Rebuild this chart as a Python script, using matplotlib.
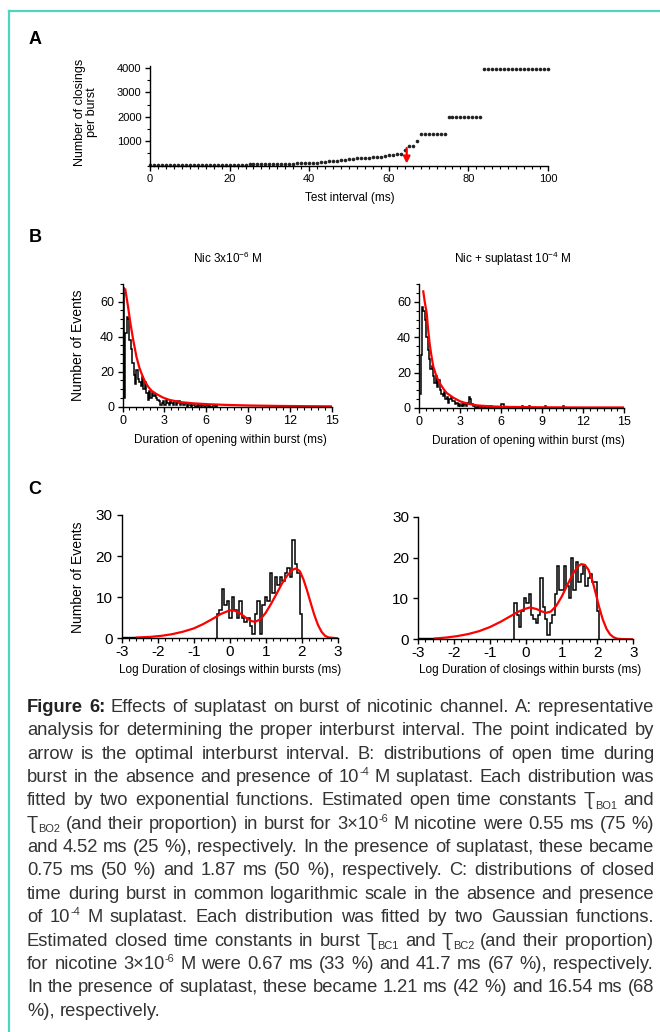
import re
import numpy as np
import matplotlib
matplotlib.use('Agg')
import matplotlib.pyplot as plt
from matplotlib.lines import Line2D
from matplotlib.ticker import MultipleLocator
from matplotlib.transforms import IdentityTransform

plt.rcParams['font.family'] = ['Liberation Sans', 'DejaVu Sans']
plt.rcParams['mathtext.default'] = 'regular'
plt.rcParams['axes.unicode_minus'] = False

W, H = 660, 1032

# ---------------- panel A : closings per burst vs test interval
a_interval = list(range(0, 101))
a_closings = [8, 9, 10, 11, 12, 13, 14, 15, 16, 17,
              18, 19, 20, 21, 22, 23, 24, 26, 28, 30,
              32, 34, 36, 38, 40, 42, 44, 47, 50, 53,
              56, 59, 62, 66, 70, 74, 78, 83, 88, 94,
              100, 108, 118, 130, 150, 170, 190, 205, 220, 235,
              250, 275, 300, 305, 310, 320, 330, 340, 360, 400,
              440, 450, 460, 480, 650, 790, 790, 990, 1310, 1310,
              1310, 1310, 1310, 1310, 1310, 1970, 1970, 1970, 1970, 1970,
              1970, 1970, 1970, 1970, 3950, 3950, 3950, 3950, 3950, 3950,
              3950, 3950, 3950, 3950, 3950, 3950, 3950, 3950, 3950, 3950, 3950]
a_arrow_x = 64.5
a_arrow_top = 720
a_arrow_tip = 80

# ---------------- panel B : open time histograms (bin 0.1 ms)
b_bin = 0.1
b_nic_counts = [68, 5, 42, 51, 50, 38, 33, 25, 18, 13,
                21, 16, 14, 12, 17, 10, 14, 8, 4, 9,
                5, 8, 6, 7, 5, 4, 3, 1, 2, 3,
                1, 4, 2, 1, 3, 2, 1, 3, 1, 2,
                3, 1, 2, 1, 1, 2, 0, 1, 1, 0,
                1, 1, 0, 1, 0, 1, 0, 1, 0, 0,
                1, 0, 1, 0, 0, 1, 0, 1]
b_sup_counts = [8, 30, 57, 55, 50, 40, 33, 28, 22, 24,
                18, 14, 18, 12, 16, 10, 8, 7, 9, 5,
                6, 3, 5, 6, 4, 4, 2, 3, 1, 2,
                1, 2, 1, 2, 1, 3, 6, 5, 2, 1,
                1, 0, 1, 0, 1, 0, 1, 0, 0, 1,
                0, 0, 1, 0, 0, 0, 0, 0, 0, 0,
                2, 2]
b_sup_tail_x = [7.5, 8.0, 9.2, 10.5]
b_sup_tail_n = [1, 1, 1, 1]

b_nic_fit_x = [0.2, 0.4, 0.57, 0.77, 1.0, 1.2, 1.36, 1.6, 1.84, 2.1, 2.44, 2.9,
               3.4, 4.2, 5.1, 6.2, 7.5, 9.0, 11.0, 13.0, 15.0]
b_nic_fit_y = [67, 57, 47.5, 38, 28.5, 22.5, 19, 14.5, 11.4, 9, 7.2, 5.2,
               3.8, 2.6, 1.9, 1.4, 1.0, 0.7, 0.45, 0.3, 0.2]
b_sup_fit_x = [0.29, 0.4, 0.54, 0.65, 0.78, 0.9, 1.02, 1.25, 1.5, 1.75, 2.0, 2.5,
               2.98, 3.5, 4.2, 5.2, 6.6, 9.0, 12.0, 15.0]
b_sup_fit_y = [66, 60, 53.8, 44, 35, 29, 23.6, 18, 14, 11, 8.5, 5.8,
               3.8, 2.5, 1.5, 0.9, 0.6, 0.4, 0.3, 0.3]

# ---------------- panel C : closed time histograms (log scale)
c_nic_start, c_nic_bin = -0.36, 0.07
c_nic_counts = [6, 7, 12, 8, 9, 5, 10, 7, 5, 9, 5, 4, 5, 3, 1, 6, 9, 1, 8, 10,
                9, 16, 11, 15, 13, 15, 14, 16, 17, 15, 24, 18, 16, 6]
c_sup_start, c_sup_bin = -0.32, 0.066
c_sup_counts = [9, 6, 3, 7, 10, 9, 11, 6, 5, 4, 6, 15, 8, 5, 1, 4, 6, 11, 18, 12,
                12, 18, 13, 10, 20, 12, 19, 14, 16, 18, 13, 15, 16, 14, 14, 7]
c_nic_stub = ([-3.0, -2.6], [0.4])
c_sup_stub = ([-3.0, -2.5], [0.3])

c_nic_fit_x = [-2.58, -2.2, -1.9, -1.6, -1.3, -1.0, -0.75, -0.5, -0.25, 0.0, 0.15, 0.3,
               0.45, 0.6, 0.7, 0.85, 1.0, 1.15, 1.3, 1.45, 1.6, 1.75, 1.85, 1.95,
               2.05, 2.15, 2.25, 2.35, 2.45, 2.55, 2.65, 2.75, 3.0]
c_nic_fit_y = [0.2, 0.35, 0.6, 1.0, 1.6, 2.4, 3.4, 4.6, 5.9, 6.8, 6.7, 6.0,
               5.0, 4.2, 4.0, 4.6, 6.2, 8.4, 10.8, 13.3, 15.3, 16.7, 17.0, 16.3,
               14.3, 11.6, 8.6, 5.7, 3.3, 1.6, 0.6, 0.2, 0.0]
c_sup_fit_x = [-2.53, -2.2, -1.9, -1.6, -1.3, -1.0, -0.7, -0.4, -0.2, 0.0, 0.12, 0.3,
               0.45, 0.58, 0.7, 0.85, 1.0, 1.15, 1.3, 1.45, 1.55, 1.65, 1.75, 1.85,
               1.95, 2.05, 2.15, 2.25, 2.35, 2.45, 2.55, 2.7, 3.0]
c_sup_fit_y = [0.2, 0.45, 0.8, 1.3, 2.0, 3.0, 4.3, 5.8, 6.8, 7.5, 7.8, 7.4,
               6.8, 6.5, 6.8, 8.2, 10.4, 13.1, 15.8, 17.8, 18.4, 18.2, 17.0, 14.6,
               11.3, 7.8, 4.8, 2.6, 1.2, 0.5, 0.15, 0.05, 0.0]

caption_lines = [
    "**Figure **6: Effects of suplatast on burst of nicotinic channel. A: representative",
    "analysis for determining the proper interburst interval. The point indicated by",
    "arrow is the optimal interburst interval. B: distributions of open time during",
    "burst in the absence and presence of 10^{-4} M suplatast. Each distribution was",
    "fitted by two exponential functions. Estimated open time constants Ʈ_{BO1} and",
    "Ʈ_{BO2} (and their proportion) in burst for 3×10^{-6} M nicotine were 0.55 ms (75 %)",
    "and 4.52 ms (25 %), respectively. In the presence of suplatast, these became",
    "0.75 ms (50 %) and 1.87 ms (50 %), respectively. C: distributions of closed",
    "time during burst in common logarithmic scale in the absence and presence",
    "of 10^{-4} M suplatast. Each distribution was fitted by two Gaussian functions.",
    "Estimated closed time constants in burst Ʈ_{BC1} and Ʈ_{BC2} (and their proportion)",
    "for nicotine 3×10^{-6} M were 0.67 ms (33 %) and 41.7 ms (67 %), respectively.",
    "In the presence of suplatast, these became 1.21 ms (42 %) and 16.54 ms (68",
    "%), respectively.",
]

fig = plt.figure(figsize=(W / 100, H / 100), dpi=100)


def add_ax(x0, x1, yb, yt):
    return fig.add_axes([x0 / W, 1 - yb / H, (x1 - x0) / W, (yb - yt) / H])


def ftext(x, y, s, **kw):
    return fig.text(x / W, 1 - y / H, s, **kw)


def style(ax, size, pad):
    for s in ('top', 'right'):
        ax.spines[s].set_visible(False)
    for s in ('left', 'bottom'):
        ax.spines[s].set_linewidth(1.0)
    ax.tick_params(which='major', direction='out', length=3.5, width=1,
                   labelsize=size, pad=pad)
    ax.tick_params(which='minor', direction='out', length=2, width=0.8)


# border
teal = '#4fd3c3'
fig.add_artist(Line2D([8.5 / W, 1], [1 - 10.5 / H, 1 - 10.5 / H], color=teal, lw=1.6))
fig.add_artist(Line2D([8.5 / W, 8.5 / W], [0, 1 - 10.5 / H], color=teal, lw=1.6))

# panel letters
for lab, yy in (('A', 39), ('B', 238), ('C', 490)):
    ftext(35, yy, lab, ha='center', va='center', fontsize=13, fontweight='bold')

# ---- A
axA = add_ax(150, 548, 165.5, 65.5)
axA.plot(a_interval, a_closings, 'o', ms=2.6, mew=0, color='#222222', clip_on=False)
axA.annotate('', xy=(a_arrow_x, a_arrow_tip), xytext=(a_arrow_x, a_arrow_top),
             arrowprops=dict(arrowstyle='-|>', color='red', lw=1.6,
                             mutation_scale=10, shrinkA=0, shrinkB=0))
axA.set_xlim(0, 100)
axA.set_ylim(0, 4100)
axA.set_xticks(range(0, 101, 20))
axA.set_yticks([1000, 2000, 3000, 4000])
axA.xaxis.set_minor_locator(MultipleLocator(2))
axA.yaxis.set_minor_locator(MultipleLocator(500))
style(axA, 8, 2.5)
ftext(350, 198, 'Test interval (ms)', ha='center', va='center', fontsize=8.5)
ftext(86, 112, 'Number of closings\nper burst', rotation=90, ha='center',
      va='center', fontsize=9, linespacing=1.0)

# ---- B
axB1 = add_ax(122.5, 332, 406.7, 284.2)
axB2 = add_ax(419.3, 624.3, 408, 284.3)
edges1 = np.round(np.arange(len(b_nic_counts) + 1) * b_bin, 3)
edges2 = np.round(np.arange(len(b_sup_counts) + 1) * b_bin, 3)
axB1.stairs(b_nic_counts, edges1, color='k', lw=1.1)
axB2.stairs(b_sup_counts, edges2, color='k', lw=1.1)
for tx, tn in zip(b_sup_tail_x, b_sup_tail_n):
    axB2.stairs([tn], [tx, tx + b_bin], color='k', lw=1.1)
axB1.plot(b_nic_fit_x, b_nic_fit_y, color='red', lw=1.6)
axB2.plot(b_sup_fit_x, b_sup_fit_y, color='red', lw=1.6)
for ax in (axB1, axB2):
    ax.set_xlim(0, 15)
    ax.set_ylim(0, 70)
    ax.set_xticks(range(0, 16, 3))
    ax.set_yticks([0, 20, 40, 60])
    ax.xaxis.set_minor_locator(MultipleLocator(0.5))
    ax.yaxis.set_minor_locator(MultipleLocator(5))
    style(ax, 9, 2.5)
ftext(228, 258, 'Nic 3x10$^{-6}$ M', ha='center', va='center', fontsize=8.5)
ftext(513, 259, 'Nic + suplatast 10$^{-4}$ M', ha='center', va='center', fontsize=8.5)
ftext(230, 440, 'Duration of opening within burst (ms)', ha='center', va='center', fontsize=8.5)
ftext(528, 441, 'Duration of opening within burst (ms)', ha='center', va='center', fontsize=8.5)
ftext(78, 345, 'Number of Events', rotation=90, ha='center', va='center', fontsize=10)

# ---- C
axC1 = add_ax(121.7, 337.7, 638.3, 515)
axC2 = add_ax(418.3, 633.3, 639.3, 516.7)
for ax, start, width, counts, stub, fx, fy in (
        (axC1, c_nic_start, c_nic_bin, c_nic_counts, c_nic_stub, c_nic_fit_x, c_nic_fit_y),
        (axC2, c_sup_start, c_sup_bin, c_sup_counts, c_sup_stub, c_sup_fit_x, c_sup_fit_y)):
    edges = start + np.arange(len(counts) + 1) * width
    ax.stairs(counts, edges, color='k', lw=1.1)
    ax.stairs(stub[1], stub[0], color='k', lw=1.0)
    ax.plot(fx, fy, color='red', lw=1.6)
    ax.set_xlim(-3, 3)
    ax.set_ylim(0, 30)
    ax.set_xticks(range(-3, 4))
    ax.set_yticks([0, 10, 20, 30])
    ax.xaxis.set_minor_locator(MultipleLocator(0.2))
    style(ax, 11, 1)
    ax.tick_params(axis='y', pad=3)
ftext(230, 670, 'Log Duration of closings within bursts (ms)', ha='center', va='center', fontsize=8.5)
ftext(530, 670, 'Log Duration of closings within bursts (ms)', ha='center', va='center', fontsize=8.5)
ftext(78, 577, 'Number of Events', rotation=90, ha='center', va='center', fontsize=10)

# ---- caption, justified word by word
cap_left, cap_right = 27, 654
cap_base0, cap_step = 712, 23.35
cap_size = 13.2
cap_color = '#333333'
renderer = fig.canvas.get_renderer()


def make(s, kind, bold):
    size = cap_size * 0.6 if kind != 'txt' else cap_size
    t = fig.text(0, 0, s, transform=IdentityTransform(), fontsize=size,
                 fontweight='bold' if bold else 'normal',
                 color='#222222' if bold else cap_color, ha='left', va='baseline')
    return t, t.get_window_extent(renderer).width


def word_parts(token):
    bold = token.startswith('**')
    if bold:
        token = token[2:]
    out = []
    for p in re.split(r'(\^\{[^}]*\}|_\{[^}]*\})', token):
        if not p:
            continue
        if p.startswith('^{'):
            out.append(make(p[2:-1], 'sup', bold) + ('sup',))
        elif p.startswith('_{'):
            out.append(make(p[2:-1], 'sub', bold) + ('sub',))
        else:
            out.append(make(p, 'txt', bold) + ('txt',))
    return out


probe, w_two = make('n n', 'txt', False)
probe.remove()
probe, w_nn = make('nn', 'txt', False)
probe.remove()
space_w = w_two - w_nn

for i, line in enumerate(caption_lines):
    words = [word_parts(tok) for tok in line.split(' ')]
    widths = [sum(p[1] for p in w) for w in words]
    if i < len(caption_lines) - 1 and len(words) > 1:
        gap = (cap_right - cap_left - sum(widths)) / (len(words) - 1)
    else:
        gap = space_w
    base = H - (cap_base0 + i * cap_step)
    x = cap_left
    for w, ww in zip(words, widths):
        for t, tw, kind in w:
            dy = {'txt': 0, 'sup': 7, 'sub': -3.5}[kind]
            t.set_position((x, base + dy))
            x += tw
        x += gap

fig.savefig('out.png', dpi=100)
